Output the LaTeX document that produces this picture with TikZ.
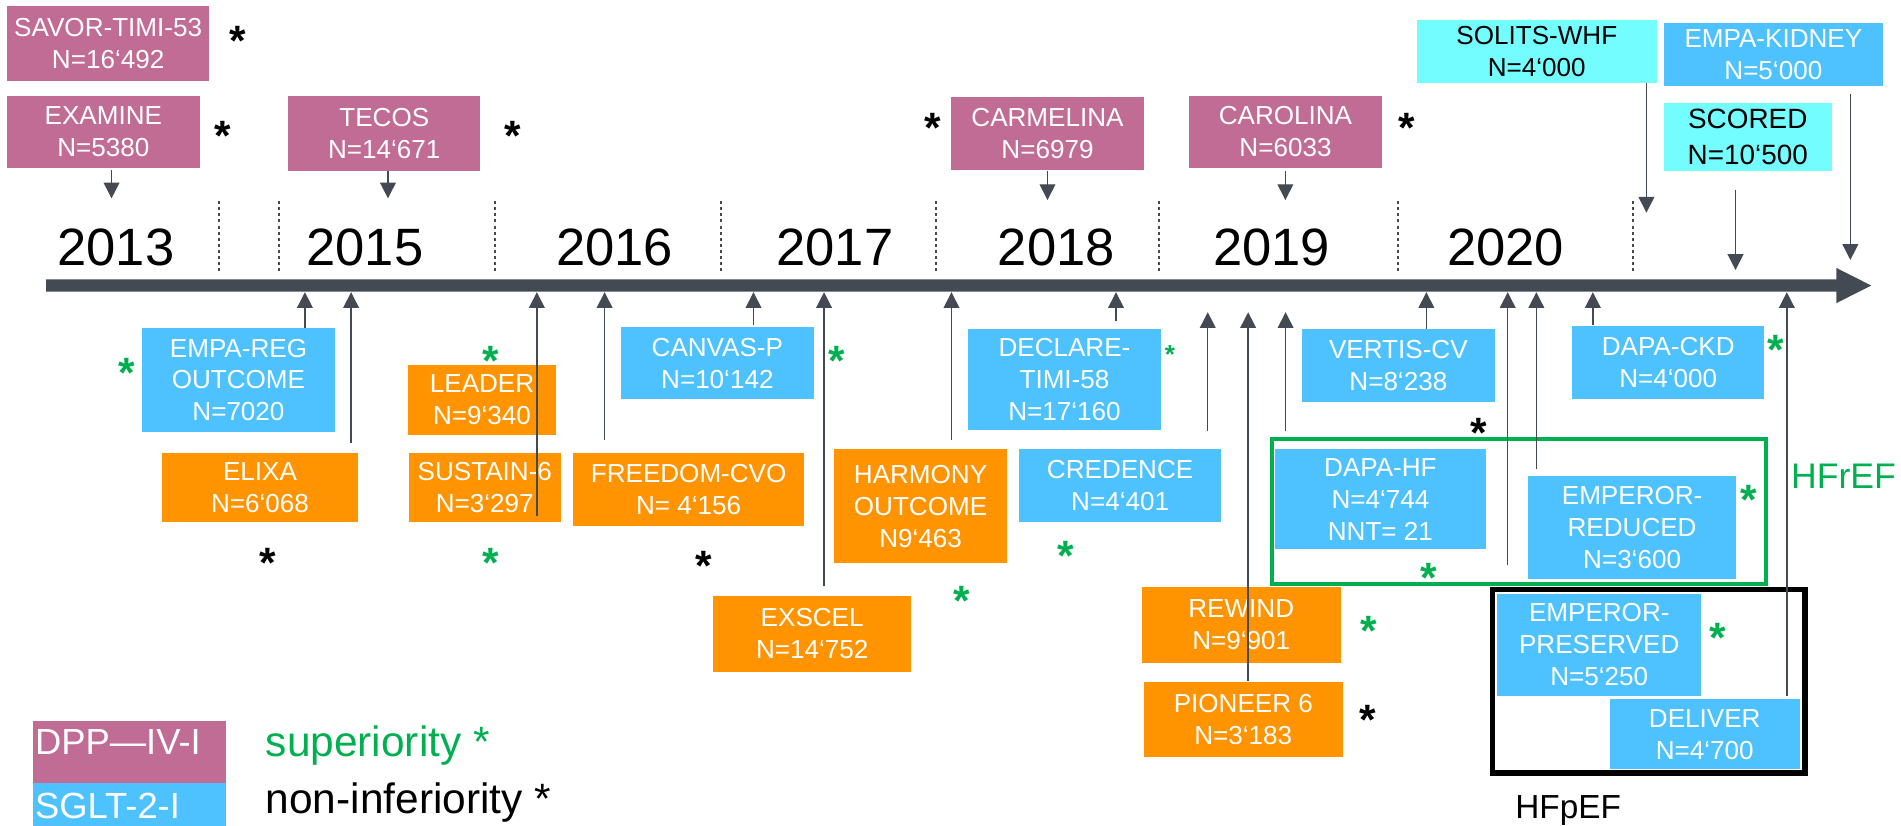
\documentclass[tikz,border=0pt]{standalone}
\usepackage{fontspec}
\setmainfont{Liberation Sans}
\usetikzlibrary{arrows.meta}
\definecolor{dppcol}{RGB}{193,108,148}
\definecolor{sgltcol}{RGB}{77,194,255}
\definecolor{glpcol}{RGB}{255,147,0}
\definecolor{newcol}{RGB}{115,253,255}
\definecolor{supcol}{RGB}{0,176,80}
\definecolor{linecol}{RGB}{68,74,84}
\newcommand{\px}{0.6pt}
\newcommand{\boxfont}{\fontsize{12.9}{15.8}\selectfont}
\newcommand{\bigboxfont}{\fontsize{13.8}{18}\selectfont}
\newcommand{\yearfont}{\fontsize{26}{30}\selectfont}
\newcommand{\legfont}{\fontsize{21}{25}\selectfont}
\newcommand{\hffont}{\fontsize{17.6}{21}\selectfont}
\newcommand{\starfont}{\fontsize{21}{25}\selectfont\bfseries}
% star glyph boxed tightly so that the node only covers the glyph
\newcommand{\tstar}{\raisebox{-0.42em}[0.3em][0pt]{*}}

\tikzset{
    trial/.style 2 args={rectangle, inner sep=0pt, minimum width=#1*\px,
        minimum height=#2*\px, align=center, text=white, font=\boxfont},
    dpp/.style={fill=dppcol},
    sglt/.style={fill=sgltcol},
    glp/.style={fill=glpcol},
    ongoing/.style={fill=newcol, text=black},
    pointer/.style={draw=linecol, line width=0.7pt,
        -{Triangle[width=7.8pt,length=7.8pt]}},
    yeardiv/.style={draw=linecol, line width=1pt, dash pattern=on 1.5pt off 1.5pt},
    supstar/.style={text=supcol, font=\starfont, inner sep=0pt},
    nistar/.style={text=black, font=\starfont, inner sep=0pt},
    yearlab/.style={font=\yearfont, anchor=base, inner sep=0pt},
}

\begin{document}
\begin{tikzpicture}[x=\px, y=-\px]
    \useasboundingbox (0,0) rectangle (1568,681);

    % the time line
    \fill[linecol] (38,230.4) -- (1514.7,230.4) -- (1514.7,221) -- (1543.4,235.5)
        -- (1514.7,250) -- (1514.7,240.5) -- (38,240.5) -- cycle;

    % years and dotted separators
    \foreach \x/\yr in {95.6/2013, 300.9/2015, 507/2016, 688.7/2017, 871.3/2018, 1049/2019, 1242/2020}
    \node[yearlab] (y\yr) at (\x,218.6) {\yr};
    \foreach \x in {180.8,230,408,595,771.7,956.2,1153.3,1347.1}
    \draw[yeardiv] (\x,166) -- (\x,225);

    % DPP-4 inhibitor trials above the line
    \node[trial={167}{61.6}, dpp] (savor) at (89.2,35.7) {SAVOR-TIMI-53\\N=16‘492};
    \node[trial={159}{59}, dpp] (examine) at (85.2,108.7) {EXAMINE\\N=5380};
    \node[trial={158.6}{61.8}, dpp] (tecos) at (317,109.9) {TECOS\\N=14‘671};
    \node[trial={159}{60}, dpp] (carmelina) at (864,110) {CARMELINA\\N=6979};
    \node[trial={159}{59}, dpp] (carolina) at (1060.3,108.7) {CAROLINA\\N=6033};

    % running trials
    \node[trial={197.6}{51.7}, ongoing] (solits) at (1267.6,42.4) {SOLITS-WHF\\N=4‘000};
    \node[trial={180.4}{51.5}, sglt] (empakidney) at (1462.7,45) {EMPA-KIDNEY\\N=5‘000};
    \node[trial={138.2}{55.6}, ongoing, font=\bigboxfont] (scored) at (1441.6,113) {SCORED\\N=10‘500};

    % trials below the line
    \node[trial={159}{85.2}, sglt] (empareg) at (196.7,313.4) {EMPA-REG\\OUTCOME\\N=7020};
    \node[trial={161.6}{56.3}, glp] (elixa) at (214.5,402) {ELIXA\\N=6‘068};
    \node[trial={121.9}{57.7}, glp] (leader) at (397.6,329.9) {LEADER\\N=9‘340};
    \node[trial={124.9}{56.3}, glp] (sustain) at (399.9,402) {SUSTAIN-6\\N=3‘297};
    \node[trial={190}{59.6}, glp] (freedom) at (568,403.7) {FREEDOM-CVO\\N= 4‘156};
    \node[trial={158.6}{59.3}, sglt] (canvas) at (591.7,299.6) {CANVAS-P\\N=10‘142};
    \node[trial={163.5}{62.4}, glp] (exscel) at (669.9,522.8) {EXSCEL\\N=14‘752};
    \node[trial={142.1}{94.1}, glp] (harmony) at (759.3,417.5) {HARMONY\\OUTCOME\\N9‘463};
    \node[trial={158.9}{82.7}, sglt] (declare) at (878,313) {DECLARE-\\TIMI-58\\N=17‘160};
    \node[trial={166.3}{59.7}, sglt] (credence) at (923.9,400.3) {CREDENCE\\N=4‘401};
    \node[trial={163.9}{62.2}, glp] (rewind) at (1023.8,515.5) {REWIND\\N=9‘901};
    \node[trial={163.9}{61.8}, glp] (pioneer) at (1025.5,593.7) {PIONEER 6\\N=3‘183};
    \node[trial={158.9}{59.6}, sglt] (vertis) at (1153.4,301.4) {VERTIS-CV\\N=8‘238};
    \node[trial={158.5}{60}, sglt] (dapackd) at (1376,298.8) {DAPA-CKD\\N=4‘000};
    \node[trial={173.8}{82.5}, sglt] (dapahf) at (1138.6,411.8) {DAPA-HF\\N=4‘744\\NNT= 21};
    \node[trial={171.7}{85.3}, sglt] (empreduced) at (1346.2,435.2) {EMPEROR-\\REDUCED\\N=3‘600};
    \node[trial={168.2}{83.8}, sglt] (emppreserved) at (1319.1,531.9) {EMPEROR-\\PRESERVED\\N=5‘250};
    \node[trial={156.8}{57.5}, sglt] (deliver) at (1406.1,605.6) {DELIVER\\N=4‘700};

    % heart failure frames
    \node[draw=supcol, line width=2.1pt, inner sep=0pt, minimum width=407.8*\px,
        minimum height=119.6*\px] (hfref) at (1252.8,421.8) {};
    \node[draw=black, line width=2.7pt, inner sep=0pt, minimum width=257.8*\px,
        minimum height=151.7*\px] (hfpef) at (1359.8,561.9) {};
    \node[text=supcol, font=\hffont, anchor=base west, inner sep=0pt] (hfreflab) at (1477,402.8) {HFrEF};
    \node[font=\fontsize{16.5}{20}\selectfont, anchor=base west, inner sep=0pt] (hfpeflab) at (1249.6,675) {HFpEF};

    % arrow tips on the line
    \foreach \n/\x in {empareg/251.5, elixa/289.6, sustain/442.8, freedom/498.7, canvas/621.5,
        exscel/679.7, harmony/784.8, declare/920.5, vertis/1176.5, dapahf/1243.6,
        empreduced/1267.2, dapackd/1313.8, deliver/1473.8}
    \coordinate (t-\n) at (\x,241);
    \foreach \n/\x in {credence/996.2, pioneer/1029.5, hfref/1060.4}
    \coordinate (t-\n) at (\x,257.5);
    \foreach \n/\x/\y in {examine/92/163.6, tecos/320/163.6, carmelina/864/165, carolina/1060.2/165,
        solits/1358/175.4, scored/1431.5/222.7, empakidney/1526.2/214.4}
    \coordinate (t-\n) at (\x,\y);

    % arrows from the trials
    \foreach \n/\a/\s in {empareg/north/0pt, elixa/north/5pt, sustain/south/2.8pt, freedom/north/6.3pt,
        canvas/north/0.8pt, exscel/north/5pt, harmony/north/4.3pt, declare/north/3.8pt,
        credence/north/8.7pt, pioneer/north/0.5pt, hfref/north/2.8pt, vertis/north/0pt,
        dapahf/south/-7.8pt, empreduced/north/3.3pt, dapackd/north/0pt, deliver/north/1.3pt,
        examine/south/1pt, tecos/south/0pt, carmelina/south/0.6pt, carolina/south/1.6pt,
        solits/south/0pt, scored/south/9.1pt, empakidney/south/3.8pt}
    \draw[pointer, shorten <=\s] (t-\n |- \n.\a) -- (t-\n);

    % non-inferiority stars
    \foreach \x/\y [count=\i] in {196/26, 183.5/104.5, 422.6/104, 769.3/97.6, 1160.7/97.6,
        220.5/456.3, 580.4/459, 1219.3/349.1, 1128.5/585.6}
    \node[nistar] (ni\i) at (\x,\y) {\tstar};

    % superiority stars
    \foreach \x/\y [count=\i] in {104.4/299.6, 404.7/290, 405/456.3, 689.9/290, 879.4/450.8,
        793.3/488, 1465/280.4, 1178.6/468.7, 1442.5/404.1, 1129.3/512.8, 1417/518.3}
    \node[supstar] (su\i) at (\x,\y) {\tstar};
    \node[supstar, font=\boxfont\bfseries] (su12) at (965,287.3) {\tstar};

    % legend
    \node[fill=dppcol, inner sep=0pt, minimum width=158.9*\px, minimum height=50.8*\px] (legdpp) at (106.8,620.1) {};
    \node[fill=sgltcol, inner sep=0pt, minimum width=158.9*\px, minimum height=35.8*\px] (legsglt) at (106.8,663.4) {};
    \node[text=white, font=\fontsize{18}{22}\selectfont, anchor=base west, inner sep=0pt] (dpplab) at (28.6,622.7) {DPP—IV-I};
    \node[text=white, font=\fontsize{18}{22}\selectfont, anchor=base west, inner sep=0pt] (sgltlab) at (28.6,675) {SGLT-2-I};
    \node[text=supcol, font=\legfont, anchor=base west, inner sep=0pt] (legsup) at (218.9,624) {superiority *};
    \node[font=\legfont, anchor=base west, inner sep=0pt] (legni) at (218.9,670.8) {non-inferiority *};
\end{tikzpicture}
\end{document}
